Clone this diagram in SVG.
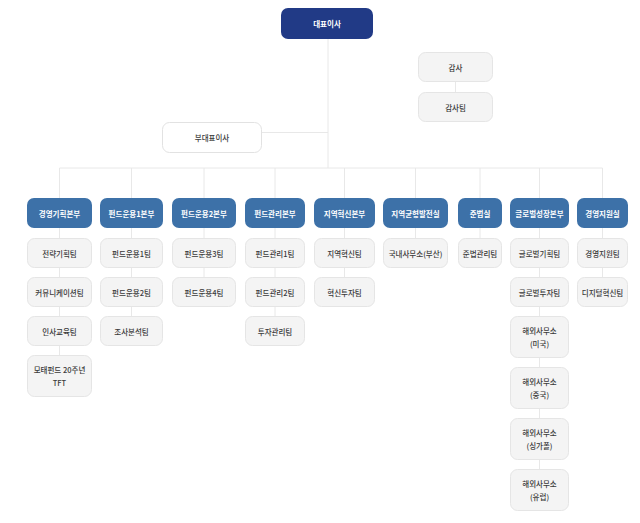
<svg xmlns="http://www.w3.org/2000/svg" width="640" height="523" viewBox="0 0 640 523">
<style>
text{font-family:"Noto Sans CJK KR","Noto Sans",sans-serif;font-size:7.5px;text-anchor:middle;dominant-baseline:central}
.top rect{fill:#213a86}
.top text{fill:#fff;font-weight:700}
.hd rect{fill:#3d71a8}
.hd text{fill:#fff;font-weight:700}
.ch rect{fill:#f4f4f4;stroke:#e5e5e5;stroke-width:1}
.ch text{fill:#3a3a3a;font-weight:500}
.wh rect{fill:#fff;stroke:#e2e2e2;stroke-width:1}
.wh text{fill:#3a3a3a;font-weight:500}
.ln{stroke:#e8e8e8;stroke-width:1;fill:none}
</style>
<rect width="640" height="523" fill="#fff"/>
<g id="connectors" class="ln">
<path d="M328 39V168"/>
<path d="M262 132.5H328"/>
<path d="M455.5 82V92"/>
<path d="M59.5 168H602.5"/>
<path d="M59.5 168V376"/>
<path d="M131.5 168V331"/>
<path d="M204 168V292"/>
<path d="M275 168V331"/>
<path d="M344.5 168V292"/>
<path d="M415.5 168V253"/>
<path d="M480 168V253"/>
<path d="M539.5 168V490"/>
<path d="M602.5 168V292"/>
</g>
<g id="ceo" class="top"><rect x="281" y="8" width="92" height="31" rx="7"/><text x="327" y="23.5">대표이사</text></g>
<g id="audit" class="ch"><rect x="418.5" y="52.5" width="74" height="29" rx="7"/><text x="455.5" y="67">감사</text></g>
<g id="audit-team" class="ch"><rect x="418.5" y="92.5" width="74" height="29" rx="7"/><text x="455.5" y="107">감사팀</text></g>
<g id="vice" class="wh"><rect x="162.5" y="122.5" width="99" height="30" rx="7"/><text x="212" y="137.5">부대표이사</text></g>

<g id="h1" class="hd"><rect x="27" y="198" width="65" height="30" rx="7"/><text x="59.5" y="213">경영기획본부</text></g>
<g id="h2" class="hd"><rect x="100" y="198" width="63" height="30" rx="7"/><text x="131.5" y="213">펀드운용1본부</text></g>
<g id="h3" class="hd"><rect x="172" y="198" width="64" height="30" rx="7"/><text x="204" y="213">펀드운용2본부</text></g>
<g id="h4" class="hd"><rect x="245" y="198" width="60" height="30" rx="7"/><text x="275" y="213">펀드관리본부</text></g>
<g id="h5" class="hd"><rect x="314" y="198" width="61" height="30" rx="7"/><text x="344.5" y="213">지역혁신본부</text></g>
<g id="h6" class="hd"><rect x="383" y="198" width="65" height="30" rx="7"/><text x="415.5" y="213">지역균형발전실</text></g>
<g id="h7" class="hd"><rect x="458" y="198" width="44" height="30" rx="7"/><text x="480" y="213">준법실</text></g>
<g id="h8" class="hd"><rect x="510" y="198" width="59" height="30" rx="7"/><text x="539.5" y="213">글로벌성장본부</text></g>
<g id="h9" class="hd"><rect x="577" y="198" width="51" height="30" rx="7"/><text x="602.5" y="213">경영지원실</text></g>

<g id="c1a" class="ch"><rect x="27.5" y="238.5" width="64" height="29" rx="7"/><text x="59.5" y="253">전략기획팀</text></g>
<g id="c1b" class="ch"><rect x="27.5" y="277.5" width="64" height="29" rx="7"/><text x="59.5" y="292">커뮤니케이션팀</text></g>
<g id="c1c" class="ch"><rect x="27.5" y="316.5" width="64" height="29" rx="7"/><text x="59.5" y="331">인사교육팀</text></g>
<g id="c1d" class="ch"><rect x="27.5" y="355.5" width="64" height="41" rx="7"/><text x="59.5" y="369">모태펀드 20주년</text><text x="59.5" y="382">TFT</text></g>

<g id="c2a" class="ch"><rect x="100.5" y="238.5" width="62" height="29" rx="7"/><text x="131.5" y="253">펀드운용1팀</text></g>
<g id="c2b" class="ch"><rect x="100.5" y="277.5" width="62" height="29" rx="7"/><text x="131.5" y="292">펀드운용2팀</text></g>
<g id="c2c" class="ch"><rect x="100.5" y="316.5" width="62" height="29" rx="7"/><text x="131.5" y="331">조사분석팀</text></g>

<g id="c3a" class="ch"><rect x="172.5" y="238.5" width="63" height="29" rx="7"/><text x="204" y="253">펀드운용3팀</text></g>
<g id="c3b" class="ch"><rect x="172.5" y="277.5" width="63" height="29" rx="7"/><text x="204" y="292">펀드운용4팀</text></g>

<g id="c4a" class="ch"><rect x="245.5" y="238.5" width="59" height="29" rx="7"/><text x="275" y="253">펀드관리1팀</text></g>
<g id="c4b" class="ch"><rect x="245.5" y="277.5" width="59" height="29" rx="7"/><text x="275" y="292">펀드관리2팀</text></g>
<g id="c4c" class="ch"><rect x="245.5" y="316.5" width="59" height="29" rx="7"/><text x="275" y="331">투자관리팀</text></g>

<g id="c5a" class="ch"><rect x="314.5" y="238.5" width="60" height="29" rx="7"/><text x="344.5" y="253">지역혁신팀</text></g>
<g id="c5b" class="ch"><rect x="314.5" y="277.5" width="60" height="29" rx="7"/><text x="344.5" y="292">혁신투자팀</text></g>

<g id="c6a" class="ch"><rect x="383.5" y="238.5" width="64" height="29" rx="7"/><text x="415.5" y="253">국내사무소(부산)</text></g>

<g id="c7a" class="ch"><rect x="458.5" y="238.5" width="43" height="29" rx="7"/><text x="480" y="253">준법관리팀</text></g>

<g id="c8a" class="ch"><rect x="510.5" y="238.5" width="58" height="29" rx="7"/><text x="539.5" y="253">글로벌기획팀</text></g>
<g id="c8b" class="ch"><rect x="510.5" y="277.5" width="58" height="29" rx="7"/><text x="539.5" y="292">글로벌투자팀</text></g>
<g id="c8c" class="ch"><rect x="510.5" y="316.5" width="58" height="41" rx="7"/><text x="539.5" y="330.5">해외사무소</text><text x="539.5" y="343.5">(미국)</text></g>
<g id="c8d" class="ch"><rect x="510.5" y="367.5" width="58" height="41" rx="7"/><text x="539.5" y="381.5">해외사무소</text><text x="539.5" y="394.5">(중국)</text></g>
<g id="c8e" class="ch"><rect x="510.5" y="418.5" width="58" height="41" rx="7"/><text x="539.5" y="432.5">해외사무소</text><text x="539.5" y="445.5">(싱가폴)</text></g>
<g id="c8f" class="ch"><rect x="510.5" y="469.5" width="58" height="41" rx="7"/><text x="539.5" y="483.5">해외사무소</text><text x="539.5" y="496.5">(유럽)</text></g>

<g id="c9a" class="ch"><rect x="577.5" y="238.5" width="50" height="29" rx="7"/><text x="602.5" y="253">경영지원팀</text></g>
<g id="c9b" class="ch"><rect x="577.5" y="277.5" width="50" height="29" rx="7"/><text x="602.5" y="292">디지털혁신팀</text></g>
</svg>
